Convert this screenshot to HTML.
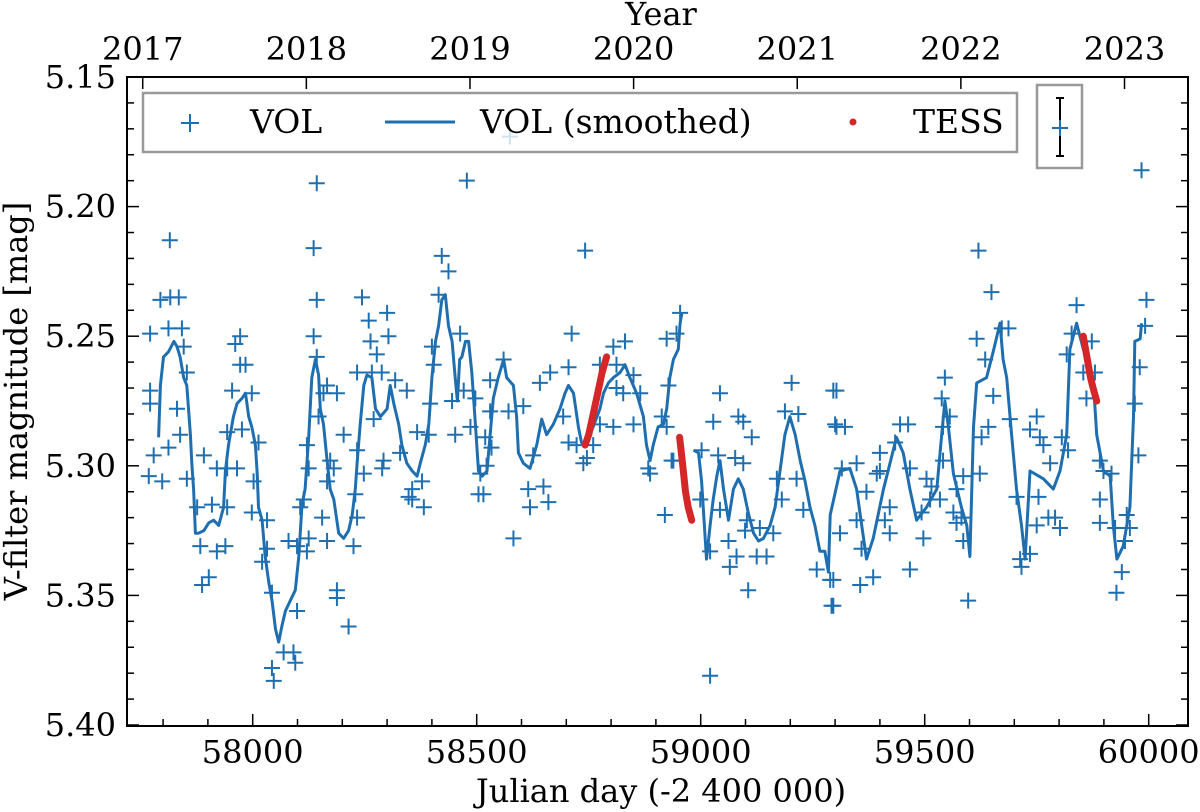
<!DOCTYPE html>
<html><head><meta charset="utf-8"><style>
body{margin:0;background:#fff}
svg{display:block;font-family:"DejaVu Serif","Liberation Serif",serif}
</style></head><body>
<svg id="chart" width="1200" height="812" viewBox="0 0 1200 812" xmlns="http://www.w3.org/2000/svg">
<rect width="1200" height="812" fill="#fff"/>
<g id="marks"></g>
<g id="axes"></g>
</svg>
<script>
// ---- data ----
const volSmoothJD=[57790,57794,57801,57812,57824,57831,57838,57846,57853,57861,57864,57868,57872,57879,57891,57902,57913,57924,57935,57939,57946,57957,57965,57976,57984,57991,57998,58006,58010,58013,58021,58028,58036,58043,58051,58058,58065,58073,58084,58095,58103,58110,58117,58125,58132,58140,58147,58151,58158,58166,58173,58181,58192,58203,58214,58222,58229,58233,58240,58248,58255,58266,58274,58285,58300,58307,58315,58326,58333,58344,58356,58367,58374,58385,58393,58400,58408,58415,58422,58430,58437,58445,58452,58457,58462,58467,58475,58482,58489,58497,58504,58512,58523,58537,58548,58560,58567,58582,58589,58593,58604,58619,58634,58645,58656,58671,58686,58697,58705,58716,58727,58734,58742,58760,58775,58783,58794,58805,58820,58831,58842,58857,58872,58879,58887,58894,58905,58917,58924,58931,58939,58950,58954,58958,null,58984,58995,59002,59013,59021,59028,59036,59043,59051,59062,59073,59084,59095,59106,59118,59129,59140,59155,59166,59177,59188,59199,59211,59222,59233,59244,59255,59266,59277,59285,59289,59311,59333,59348,59370,59385,59408,59437,59452,59467,59482,59504,59527,59538,59545,59553,59564,59582,59594,59601,59609,59616,59638,59653,59668,59675,59683,59694,59705,59716,59724,59735,59765,59787,59802,59817,59824,59839,59854,59876,59884,59899,59914,59921,59929,59943,59958,59966,59969,59981,59984];
const volSmoothMag=[5.289,5.269,5.258,5.256,5.252,5.254,5.258,5.266,5.269,5.288,5.299,5.309,5.326,5.326,5.325,5.322,5.321,5.323,5.316,5.302,5.292,5.281,5.276,5.274,5.272,5.281,5.285,5.292,5.303,5.316,5.321,5.335,5.345,5.352,5.363,5.368,5.362,5.356,5.352,5.348,5.335,5.315,5.309,5.289,5.266,5.259,5.265,5.278,5.284,5.298,5.309,5.313,5.326,5.328,5.325,5.319,5.309,5.299,5.284,5.269,5.265,5.266,5.278,5.281,5.278,5.269,5.276,5.284,5.292,5.299,5.302,5.304,5.299,5.292,5.284,5.266,5.252,5.246,5.236,5.234,5.246,5.252,5.266,5.275,5.259,5.258,5.252,5.252,5.264,5.284,5.302,5.304,5.302,5.274,5.266,5.259,5.266,5.269,5.281,5.295,5.299,5.301,5.292,5.282,5.288,5.284,5.278,5.272,5.269,5.272,5.285,5.291,5.292,5.285,5.278,5.272,5.268,5.266,5.264,5.261,5.266,5.272,5.281,5.292,5.298,5.292,5.285,5.284,5.278,5.266,5.259,5.255,5.245,5.241,null,5.294,5.295,5.306,5.336,5.323,5.313,5.304,5.298,5.309,5.321,5.309,5.305,5.309,5.318,5.326,5.329,5.328,5.323,5.316,5.302,5.288,5.281,5.288,5.298,5.306,5.316,5.323,5.333,5.333,5.341,5.319,5.302,5.301,5.309,5.336,5.328,5.309,5.289,5.295,5.309,5.321,5.316,5.309,5.288,5.275,5.285,5.303,5.316,5.323,5.335,5.285,5.268,5.266,5.256,5.245,5.259,5.266,5.288,5.309,5.323,5.336,5.302,5.305,5.309,5.302,5.288,5.255,5.245,5.255,5.266,5.288,5.302,5.304,5.323,5.336,5.331,5.316,5.281,5.252,5.251,5.245];
const volJD=[57815,58143,58136,58143,58478,58422,58437,57794,57816,57835,57771,57812,57842,57846,57853,57771,57771,57831,57838,57779,57812,57768,57798,57891,57853,57920,57943,57965,57876,57909,57943,57883,57920,57939,57887,57902,57972,57961,57972,57984,57954,57998,57943,57976,58013,58002,57998,58032,58021,58032,58043,58043,58047,58069,58091,58095,58099,58080,58099,58114,58106,58121,58125,58121,58125,58136,58143,58147,58158,58166,58188,58173,58181,58166,58155,58166,58188,58188,58214,58225,58233,58229,58248,58233,58203,58244,58259,58300,58263,58303,58277,58233,58266,58288,58318,58344,58270,58292,58289,58329,58367,58393,58356,58348,58356,58382,58378,58400,58404,58396,58415,58452,58471,58486,58508,58504,58463,58445,58497,58574,
58742,58712,58954,58924,58946,58805,58831,58775,58812,58850,58705,58664,58641,58530,58560,58928,58865,58812,58827,58604,58571,58530,58693,58805,58775,58850,58913,58924,58519,58533,58522,58705,58723,58760,58746,58738,58626,58883,58887,58935,58615,58649,58619,58660,58582,58515,58920,59021,59043,59028,59084,59095,59114,59203,59188,59218,59002,59039,59077,59095,58939,59170,59214,58999,59043,59021,59062,59080,59065,59103,59099,59132,59162,59125,59147,59106,59181,59229,59259,59289,59292,59296,59300,
59984,59620,59649,59839,59995,59992,59616,59672,59687,59828,59873,59635,59817,59545,59854,59880,59980,59303,59538,59653,59861,59969,59556,59750,59303,59322,59445,59463,59541,59642,59627,59735,59757,59806,59434,59765,59400,59690,59820,59977,59541,59315,59348,59780,59393,59400,59467,59623,59891,59899,59917,59504,59586,59370,59515,59571,59705,59754,59512,59534,59422,59891,59348,59411,59493,59564,59582,59776,59791,59951,59891,59958,59311,59422,59497,59571,59750,59802,59586,59359,59735,59925,59947,59296,59356,59385,59467,59713,59716,59940,59928,59597,59296];
const volMag=[5.213,5.191,5.216,5.236,5.190,5.219,5.225,5.236,5.235,5.235,5.249,5.247,5.247,5.254,5.264,5.271,5.276,5.278,5.288,5.296,5.293,5.304,5.306,5.296,5.305,5.301,5.301,5.301,5.316,5.315,5.316,5.331,5.333,5.331,5.346,5.343,5.250,5.253,5.261,5.261,5.271,5.272,5.287,5.286,5.291,5.306,5.318,5.321,5.337,5.332,5.349,5.378,5.383,5.372,5.372,5.376,5.356,5.329,5.331,5.313,5.316,5.333,5.328,5.292,5.301,5.250,5.258,5.281,5.272,5.269,5.272,5.298,5.301,5.306,5.320,5.329,5.348,5.351,5.362,5.331,5.320,5.311,5.303,5.294,5.288,5.235,5.244,5.241,5.252,5.250,5.257,5.264,5.264,5.264,5.267,5.271,5.282,5.298,5.301,5.295,5.287,5.288,5.309,5.312,5.313,5.316,5.306,5.254,5.261,5.276,5.234,5.288,5.271,5.285,5.303,5.311,5.249,5.275,5.274,5.173,
5.217,5.249,5.241,5.251,5.249,5.254,5.252,5.261,5.261,5.265,5.262,5.264,5.268,5.267,5.259,5.269,5.272,5.270,5.272,5.277,5.279,5.279,5.281,5.285,5.284,5.284,5.281,5.285,5.289,5.293,5.300,5.291,5.292,5.292,5.297,5.299,5.296,5.301,5.303,5.298,5.309,5.308,5.316,5.314,5.328,5.311,5.319,5.381,5.272,5.283,5.281,5.283,5.289,5.268,5.279,5.280,5.294,5.296,5.297,5.299,5.298,5.305,5.305,5.313,5.317,5.333,5.329,5.335,5.339,5.321,5.325,5.324,5.326,5.335,5.335,5.348,5.313,5.317,5.340,5.344,5.354,5.271,5.284,
5.186,5.217,5.233,5.238,5.236,5.246,5.251,5.247,5.247,5.249,5.252,5.259,5.257,5.266,5.264,5.264,5.262,5.271,5.274,5.273,5.274,5.276,5.281,5.281,5.285,5.285,5.284,5.284,5.285,5.285,5.289,5.286,5.289,5.289,5.291,5.292,5.295,5.282,5.294,5.296,5.298,5.301,5.299,5.299,5.303,5.302,5.301,5.303,5.298,5.302,5.303,5.305,5.304,5.310,5.308,5.309,5.312,5.312,5.313,5.313,5.316,5.313,5.321,5.321,5.318,5.318,5.320,5.320,5.320,5.319,5.322,5.324,5.326,5.326,5.328,5.322,5.323,5.324,5.329,5.332,5.334,5.324,5.329,5.344,5.346,5.343,5.340,5.336,5.339,5.341,5.349,5.352,5.354];
const tessJD=[[58742,58750,58760,58770,58780,58790],[58953,58960,58966,58972,58980],[59854,59862,59870,59876,59884]];
const tessMag=[[5.292,5.288,5.280,5.272,5.264,5.258],[5.289,5.300,5.310,5.316,5.321],[5.250,5.258,5.266,5.270,5.275]];
const xTickLabels=[58000,58500,59000,59500,60000];
const yTickLabels=["5.15","5.20","5.25","5.30","5.35","5.40"];
const yearLabels=[2017,2018,2019,2020,2021,2022,2023];

// ---- axes ----
const L=127,R=1188,T=77,B=726;
const X=jd=>252.7+(jd-58000)*0.448;
const Y=m=>T+(m-5.15)*2592;
const NS="http://www.w3.org/2000/svg";
function mk(tag,attrs,parent,text){const e=document.createElementNS(NS,tag);for(const k in attrs)e.setAttribute(k,attrs[k]);if(text!==undefined)e.textContent=text;parent.appendChild(e);return e;}
const marks=document.getElementById('marks'),axes=document.getElementById('axes');
const C="#1f6fb0";
const FS=32;

const sg=mk('g',{},marks);


for(let i=0;i<volJD.length;i++){const x=X(volJD[i]),y=Y(volMag[i]);
 const p=mk('path',{d:`M${x-8},${y}H${x+8}M${x},${y-8}V${y+8}`,stroke:C,'stroke-width':2,fill:'none'},sg);
 
 
}
let d="",pen=false;
for(let i=0;i<volSmoothJD.length;i++){if(volSmoothJD[i]===null){pen=false;continue;}
 d+=(pen?"L":"M")+X(volSmoothJD[i]).toFixed(1)+","+Y(volSmoothMag[i]).toFixed(1);pen=true;}
const ln=mk('path',{d:d,stroke:C,'stroke-width':3,fill:'none','stroke-linejoin':'round'},marks);


for(let s=0;s<tessJD.length;s++){let dd="";for(let i=0;i<tessJD[s].length;i++)dd+=(i?"L":"M")+X(tessJD[s][i]).toFixed(1)+","+Y(tessMag[s][i]).toFixed(1);
 const t=mk('path',{d:dd,stroke:"#d62728",'stroke-width':7,fill:'none','stroke-linecap':'round','stroke-linejoin':'round'},marks);
 
 
}

const fr=mk('rect',{x:L,y:T,width:R-L,height:B-T,fill:'none',stroke:'#000','stroke-width':2},axes);


for(let jd=57800;jd<=60100;jd+=100){const x=X(jd);if(x<L||x>R)continue;const maj=jd%500===0;const len=maj?12:7;
 mk('line',{x1:x,y1:B,x2:x,y2:B-len,stroke:'#000','stroke-width':1.5},axes);}
for(const v of xTickLabels){const t=mk('text',{x:X(v),y:763,'text-anchor':'middle','font-size':FS},axes,String(v));
 
 }
for(let k=0;k<=25;k++){const y=T+k*25.92;const maj=k%5===0;const len=maj?12:7;
 mk('line',{x1:L,y1:y,x2:L+len,y2:y,stroke:'#000','stroke-width':1.5},axes);
 mk('line',{x1:R,y1:y,x2:R-len,y2:y,stroke:'#000','stroke-width':1.5},axes);}
yTickLabels.forEach((s,i)=>{const t=mk('text',{x:116,y:Y(parseFloat(s))+11,'text-anchor':'end','font-size':FS},axes,s);
 
 });
for(const yr of yearLabels){const x=X(57754.5+365.25*(yr-2017));
 mk('line',{x1:x,y1:T,x2:x,y2:T+12,stroke:'#000','stroke-width':1.5},axes);
 const t=mk('text',{x:x,y:60,'text-anchor':'middle','font-size':FS},axes,String(yr));
 
 }
let t=mk('text',{x:661,y:25,'text-anchor':'middle','font-size':FS},axes,'Year');


t=mk('text',{x:661,y:802,'text-anchor':'middle','font-size':FS},axes,'Julian day (-2 400 000)');


t=mk('text',{x:0,y:0,'text-anchor':'middle','font-size':FS,transform:'translate(27,401) rotate(-90)'},axes,'V-filter magnitude [mag]');



const lg=mk('g',{},axes);


mk('rect',{x:143,y:93,width:874,height:59,fill:'#fff','fill-opacity':0.8,stroke:'#999','stroke-width':2.5},lg);
mk('path',{d:'M181,123H199M190,114V132',stroke:C,'stroke-width':2},lg);
mk('text',{x:250,y:133,'font-size':33},lg,'VOL');
mk('line',{x1:385,y1:122,x2:455,y2:122,stroke:C,'stroke-width':3},lg);
mk('text',{x:480,y:133,'font-size':33},lg,'VOL (smoothed)');
mk('circle',{cx:853,cy:122,r:3.5,fill:'#d62728'},lg);
mk('text',{x:913,y:133,'font-size':33},lg,'TESS');
const eb=mk('g',{},axes);


mk('rect',{x:1037,y:85,width:45,height:83,fill:'#fff','fill-opacity':0.8,stroke:'#999','stroke-width':2.5},eb);
mk('path',{d:'M1060,98V156M1056,98H1064M1056,156H1064',stroke:'#000','stroke-width':2},eb);
mk('path',{d:'M1052,128H1068M1060,120V136',stroke:C,'stroke-width':2},eb);
</script>
</body></html>
